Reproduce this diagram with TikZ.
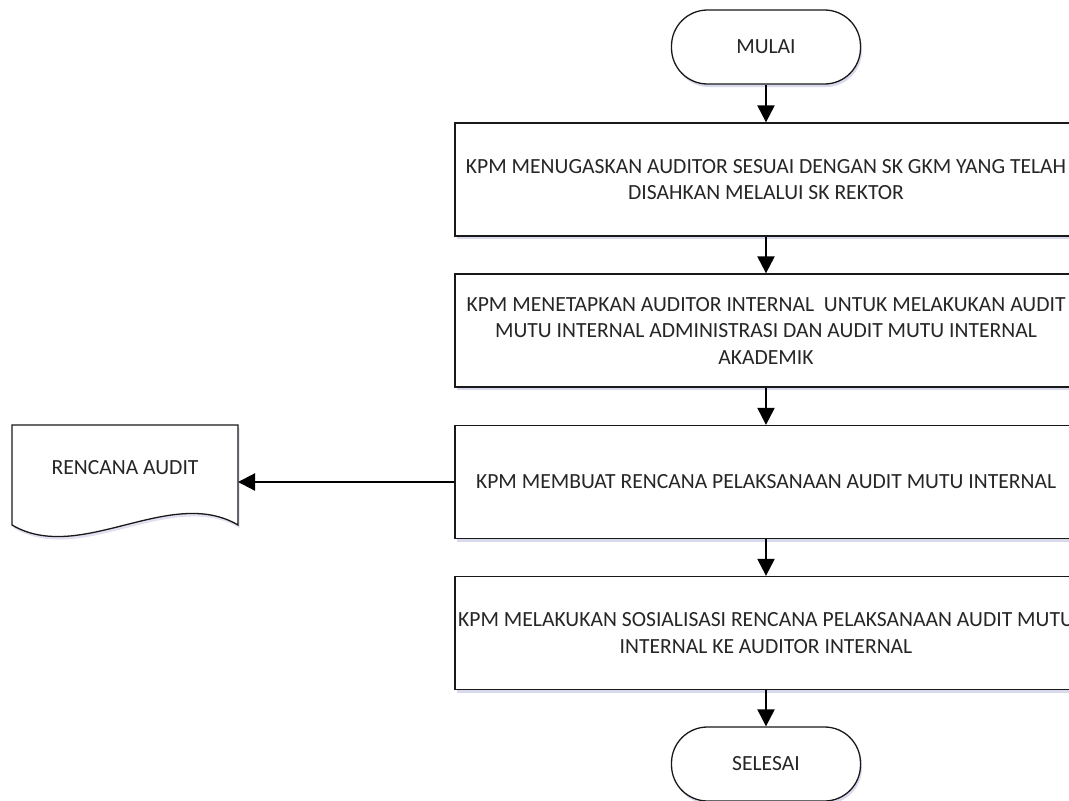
\documentclass[tikz,border=0pt]{standalone}
\usepackage{fontspec}
\setmainfont{Carlito}
\usetikzlibrary{arrows.meta,shadows}
\begin{document}
\begin{tikzpicture}[x=1pt,y=-1pt,
  font=\fontsize{21.6}{26.5}\selectfont,
  softshadow/.style={drop shadow={shadow xshift=1.5pt,shadow yshift=-3pt,opacity=0.22,fill=blue!35!gray}},
  terminal/.style={draw=black!90,line width=1.3pt,fill=white,rectangle,rounded corners=36pt,
    minimum width=189pt,minimum height=74pt,align=center,text=black!85,softshadow},
  procbox/.style={draw=black!90,line width=1.3pt,fill=white,rectangle,inner xsep=0pt,
    minimum width=622pt,minimum height=113pt,align=center,text=black!85,softshadow},
  conn/.style={draw=black,line width=2.2pt,-{Triangle[length=17pt,width=17pt]}},
  docline/.style={draw=black!90,line width=1.3pt},
  doctext/.style={text=black!85}
]
\useasboundingbox (0,0) rectangle (1069,801);
\clip (0,0) rectangle (1069,801);

\node[terminal] (mulai) at (766,47) {MULAI};
\node[procbox] (b1) at (766,179.5) {KPM MENUGASKAN AUDITOR SESUAI DENGAN SK GKM YANG TELAH\\DISAHKAN MELALUI SK REKTOR};
\node[procbox] (b2) at (766,330.5) {KPM MENETAPKAN AUDITOR INTERNAL\ \ UNTUK MELAKUKAN AUDIT\\MUTU INTERNAL ADMINISTRASI DAN AUDIT MUTU INTERNAL\\AKADEMIK};
\node[procbox] (b3) at (766,482) {KPM MEMBUAT RENCANA PELAKSANAAN AUDIT MUTU INTERNAL};
\node[procbox] (b4) at (766,633) {KPM MELAKUKAN SOSIALISASI RENCANA PELAKSANAAN AUDIT MUTU\\INTERNAL KE AUDITOR INTERNAL};
\node[terminal] (selesai) at (766,764) {SELESAI};

% document shape
\fill[blue!35!gray,opacity=0.18] (13.5,428) -- (239.5,428) -- (239.5,528)
  .. controls (171.5,488) and (81.5,568) .. (13.5,528) -- cycle;
\path[docline,fill=white] (12,425) -- (238,425) -- (238,525)
  .. controls (170,485) and (80,565) .. (12,525) -- cycle;
\node[doctext] (doc) at (125,468) {RENCANA AUDIT};
\coordinate (docin) at (238,482);

\draw[conn] (mulai) -- (b1);
\draw[conn] (b1) -- (b2);
\draw[conn] (b2) -- (b3);
\draw[conn] (b3) -- (b4);
\draw[conn] (b4) -- (selesai);
\draw[conn] (b3.west) -- (docin);
\end{tikzpicture}
\end{document}
